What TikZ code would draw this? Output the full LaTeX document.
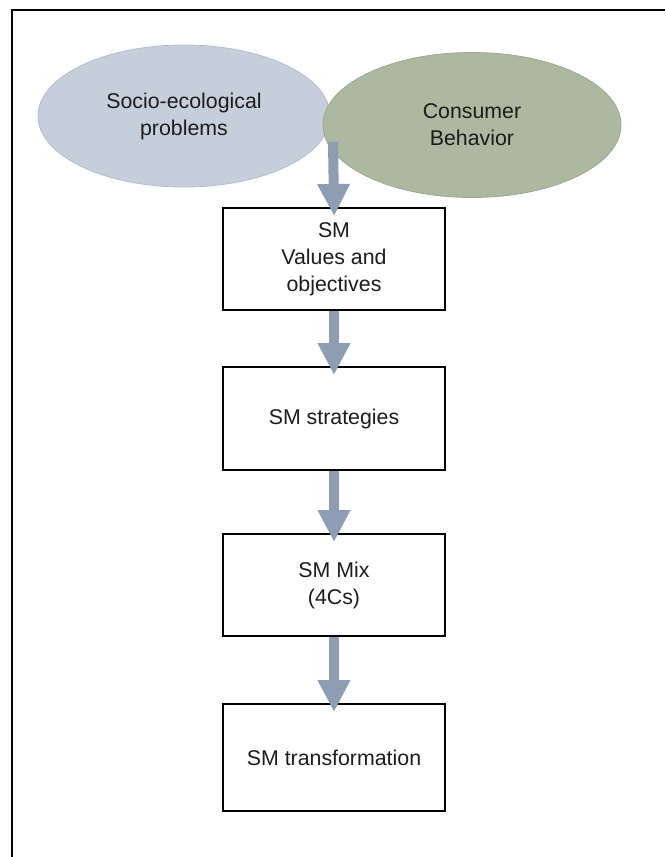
\documentclass[tikz,border=0pt]{standalone}
\usepackage{fontspec}
\setmainfont{Liberation Sans}
\usetikzlibrary{arrows.meta,shapes.geometric}
\definecolor{sociofill}{HTML}{C5CEDB}
\definecolor{sociodraw}{HTML}{B3BDCB}
\definecolor{consfill}{HTML}{ADB8A0}
\definecolor{consdraw}{HTML}{9DA890}
\definecolor{flow}{HTML}{8E9CB4}
\definecolor{ink}{HTML}{1C1C1C}
\begin{document}
\begin{tikzpicture}[x=0.75pt,y=-0.75pt,
  label text/.style={text=ink,align=center,font=\fontsize{16}{20.25}\selectfont},
  bubble/.style={ellipse,inner sep=0pt,line width=0.6pt,label text},
  stagebox/.style={rectangle,draw=black,line width=2pt,fill=white,
    minimum width=166.5pt,inner sep=0pt,label text},
  flowarrow/.style={draw=flow,line width=7.5pt,
    -{Triangle[width=23pt,length=24pt,fill=flow,color=flow]},shorten >=-7pt}]
  \useasboundingbox (0,0) rectangle (665,857);

  % open frame: top and left edges only
  \draw[line width=1.5pt,black] (12,857) -- (12,10) -- (665,10);

  % the two source themes
  \node[bubble,fill=sociofill,draw=sociodraw,minimum width=219pt,minimum height=106.5pt]
    (socio) at (184,116) {Socio-ecological\\problems};
  \node[bubble,fill=consfill,draw=consdraw,minimum width=223.5pt,minimum height=108.75pt]
    (consumer) at (472,125) {Consumer\\Behavior};

  % stages of the model
  \node[stagebox,minimum height=76.5pt] (values) at (334,259) {SM\\Values and\\objectives};
  \node[stagebox,minimum height=77.25pt] (strategies) at (334,418.5) {SM strategies};
  \node[stagebox,minimum height=76.5pt] (mix) at (334,585) {SM Mix\\(4Cs)};
  \node[stagebox,minimum height=80.25pt] (transform) at (334,757.5) {SM transformation};

  % flow between the stages
  \coordinate (source) at (333,142);
  \draw[flowarrow] (source) -- (values.north);
  \draw[flowarrow] (values.south) -- (strategies.north);
  \draw[flowarrow] (strategies.south) -- (mix.north);
  \draw[flowarrow] (mix.south) -- (transform.north);
\end{tikzpicture}
\end{document}
